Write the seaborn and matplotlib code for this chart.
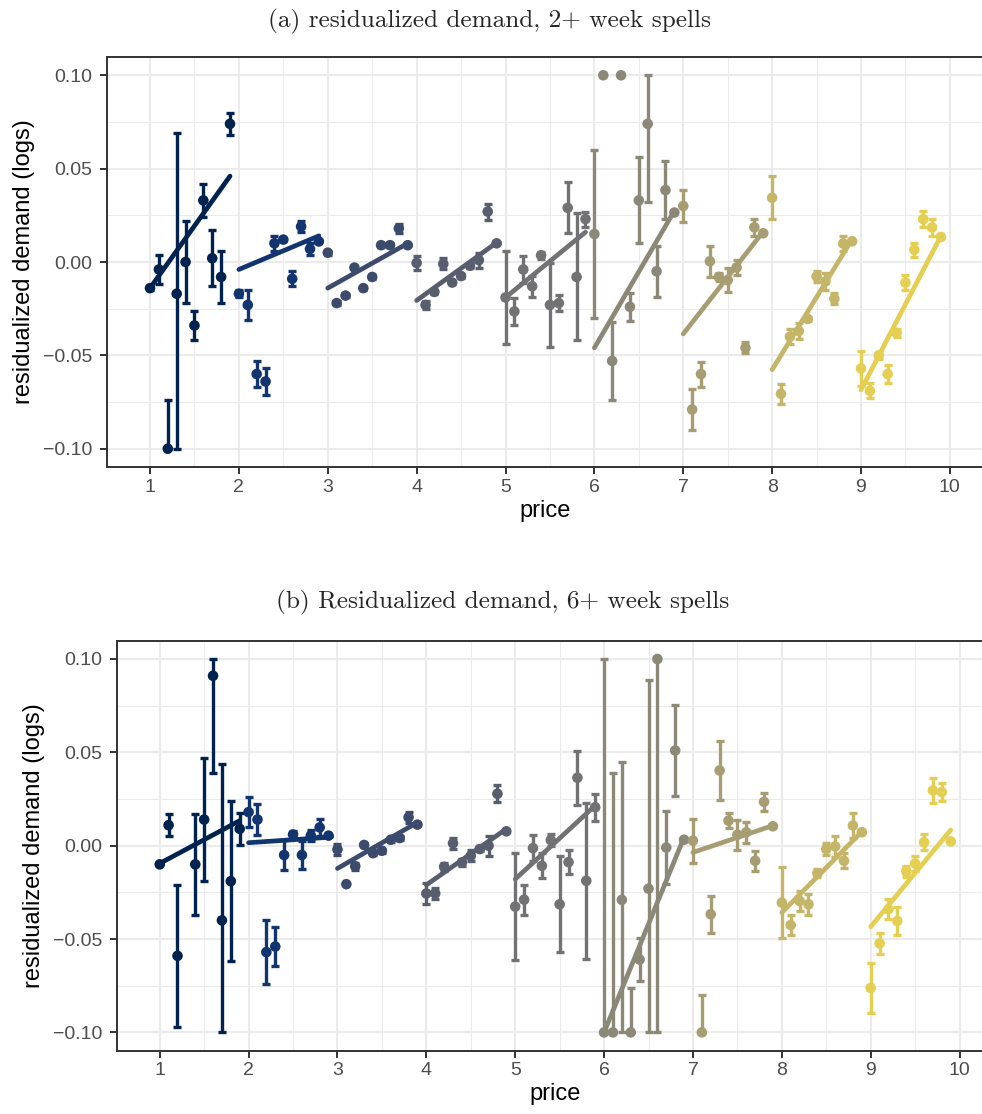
import numpy as np
import pandas as pd
import matplotlib
matplotlib.use("Agg")
import matplotlib.pyplot as plt
from matplotlib.ticker import FixedLocator, MultipleLocator
import seaborn as sns

# ---------------------------------------------------------------- data
price = [
    1.0, 1.1, 1.2, 1.3, 1.4, 1.5, 1.6, 1.7, 1.8, 1.9,
    2.0, 2.1, 2.2, 2.3, 2.4, 2.5, 2.6, 2.7, 2.8, 2.9,
    3.0, 3.1, 3.2, 3.3, 3.4, 3.5, 3.6, 3.7, 3.8, 3.9,
    4.0, 4.1, 4.2, 4.3, 4.4, 4.5, 4.6, 4.7, 4.8, 4.9,
    5.0, 5.1, 5.2, 5.3, 5.4, 5.5, 5.6, 5.7, 5.8, 5.9,
    6.0, 6.1, 6.2, 6.3, 6.4, 6.5, 6.6, 6.7, 6.8, 6.9,
    7.0, 7.1, 7.2, 7.3, 7.4, 7.5, 7.6, 7.7, 7.8, 7.9,
    8.0, 8.1, 8.2, 8.3, 8.4, 8.5, 8.6, 8.7, 8.8, 8.9,
    9.0, 9.1, 9.2, 9.3, 9.4, 9.5, 9.6, 9.7, 9.8, 9.9,
]

# residualized demand and standard errors, 2+ week spells
demand_2wk = [
    -0.014, -0.004, -0.100, -0.017, 0.000, -0.034, 0.033, 0.002, -0.008, 0.074,
    -0.017, -0.023, -0.060, -0.064, 0.010, 0.012, -0.009, 0.019, 0.007, 0.011,
    0.005, -0.022, -0.018, -0.003, -0.014, -0.008, 0.009, 0.009, 0.018, 0.009,
    -0.0005, -0.023, -0.016, -0.001, -0.011, -0.0075, -0.002, 0.001, 0.027, 0.010,
    -0.019, -0.0265, -0.004, -0.013, 0.0036, -0.023, -0.022, 0.029, -0.008, 0.023,
    0.015, 0.100, -0.053, 0.100, -0.024, 0.033, 0.074, -0.005, 0.0385, 0.0265,
    0.030, -0.079, -0.060, 0.0004, -0.008, -0.0097, -0.003, -0.046, 0.0186, 0.0154,
    0.0344, -0.0706, -0.040, -0.037, -0.0305, -0.0077, -0.0104, -0.0197, 0.0099, 0.0111,
    -0.057, -0.069, -0.050, -0.060, -0.038, -0.011, 0.0065, 0.023, 0.0185, 0.0134,
]
se_2wk = [
    0.001, 0.008, 0.026, 0.086, 0.022, 0.008, 0.009, 0.015, 0.014, 0.006,
    0.002, 0.008, 0.007, 0.007, 0.004, 0.001, 0.004, 0.003, 0.003, 0.0,
    0.001, 0.001, 0.001, 0.001, 0.001, 0.001, 0.001, 0.001, 0.0025, 0.0,
    0.0036, 0.002, 0.001, 0.003, 0.001, 0.001, 0.001, 0.004, 0.0043, 0.0,
    0.025, 0.007, 0.007, 0.0057, 0.002, 0.0224, 0.0043, 0.0136, 0.034, 0.004,
    0.045, 0.0, 0.021, 0.0, 0.0076, 0.023, 0.042, 0.0135, 0.0157, 0.0,
    0.0088, 0.0108, 0.0067, 0.0083, 0.002, 0.0066, 0.0042, 0.003, 0.0045, 0.0,
    0.0116, 0.0052, 0.004, 0.0045, 0.001, 0.003, 0.0045, 0.003, 0.004, 0.0,
    0.0092, 0.004, 0.002, 0.005, 0.002, 0.0042, 0.0038, 0.0044, 0.0045, 0.0,
]
# fitted demand at the first and last price of each whole-dollar segment
fit_start_2wk = [-0.014, -0.004, -0.014, -0.0206, -0.019, -0.046, -0.0385, -0.0577, -0.0685]
fit_end_2wk = [0.046, 0.014, 0.010, 0.0104, 0.016, 0.0274, 0.0163, 0.0122, 0.014]

# residualized demand and standard errors, 6+ week spells
demand_6wk = [
    -0.010, 0.011, -0.059, np.nan, -0.010, 0.014, 0.091, -0.040, -0.019, 0.009,
    0.018, 0.014, -0.057, -0.054, -0.005, 0.006, -0.005, 0.0054, 0.0098, 0.0054,
    -0.002, -0.0206, -0.011, 0.0004, -0.004, -0.0027, 0.0032, 0.0041, 0.0152, 0.0113,
    -0.0256, -0.0256, -0.0113, 0.0013, -0.009, -0.0054, -0.0018, 0.000, 0.0278, 0.0077,
    -0.0326, -0.0289, -0.0013, -0.0108, 0.003, -0.0314, -0.0088, 0.0364, -0.0188, 0.0206,
    -0.100, -0.100, -0.029, -0.100, -0.061, -0.023, 0.100, -0.001, 0.051, 0.0032,
    0.0027, -0.100, -0.0367, 0.0403, 0.0134, 0.0059, 0.0072, -0.0081, 0.0235, 0.0104,
    -0.0305, -0.0425, -0.0296, -0.0314, -0.0147, -0.0018, -0.0004, -0.0081, 0.0108, 0.0072,
    -0.0762, -0.0523, -0.034, -0.0403, -0.0138, -0.0095, 0.0018, 0.0296, 0.0287, 0.0023,
]
se_6wk = [
    0.0, 0.0058, 0.038, np.nan, 0.027, 0.033, 0.052, 0.084, 0.043, 0.0085,
    0.008, 0.0083, 0.017, 0.0106, 0.008, 0.002, 0.0076, 0.003, 0.0045, 0.0,
    0.003, 0.0, 0.002, 0.001, 0.001, 0.001, 0.001, 0.001, 0.003, 0.0,
    0.0054, 0.003, 0.002, 0.003, 0.002, 0.003, 0.001, 0.0054, 0.0045, 0.0,
    0.0285, 0.008, 0.007, 0.0067, 0.003, 0.0258, 0.0065, 0.0144, 0.0417, 0.0072,
    0.25, 0.139, 0.0737, 0.024, 0.0113, 0.112, 0.25, 0.0195, 0.0244, 0.0,
    0.0118, 0.0203, 0.0098, 0.0157, 0.004, 0.008, 0.0055, 0.0052, 0.0047, 0.0,
    0.0192, 0.0055, 0.0054, 0.0056, 0.002, 0.003, 0.0058, 0.004, 0.0065, 0.0,
    0.0133, 0.0055, 0.0052, 0.0074, 0.003, 0.004, 0.0042, 0.0067, 0.0048, 0.0,
]
fit_start_6wk = [-0.0095, 0.0016, -0.0122, -0.021, -0.0179, -0.100, -0.0036, -0.0358, -0.0434]
fit_end_6wk = [0.0134, 0.0045, 0.0125, 0.009, 0.0215, 0.0045, 0.0108, 0.0075, 0.0084]

titles = [
    "(a) residualized demand, 2+ week spells",
    "(b) Residualized demand, 6+ week spells",
]
x_ticks = [1, 2, 3, 4, 5, 6, 7, 8, 9, 10]
y_ticks = [-0.10, -0.05, 0.00, 0.05, 0.10]
y_tick_labels = ["\u22120.10", "\u22120.05", "0.00", "0.05", "0.10"]
y_limits = (-0.10, 0.10)

# ---------------------------------------------------------------- style
sns.set_style("white")
plt.rcParams["font.family"] = ["Liberation Sans", "DejaVu Sans"]
plt.rcParams["axes.unicode_minus"] = True

palette = [matplotlib.colormaps["cividis"](v) for v in np.linspace(0.0, 0.9, 9)]

GRID = "#EBEBEB"
DARK = "#333333"
TICK_TXT = "#4D4D4D"


def build_frames(demand, se, fit_start, fit_end):
    df = pd.DataFrame({"price": price, "demand": demand, "se": se})
    df["group"] = np.floor(df["price"] + 1e-9).astype(int)
    lo, hi = y_limits
    df["shown"] = df["demand"].clip(lo, hi)
    df["low"] = (df["demand"] - df["se"]).clip(lo, hi)
    df["high"] = (df["demand"] + df["se"]).clip(lo, hi)
    groups = sorted(df["group"].unique())
    rows = []
    for g, a, b in zip(groups, fit_start, fit_end):
        seg = df.loc[df["group"] == g, "price"]
        rows.append({"group": g, "price": seg.min(), "fit": np.clip(a, lo, hi)})
        rows.append({"group": g, "price": seg.max(), "fit": np.clip(b, lo, hi)})
    return df, pd.DataFrame(rows)


def draw_panel(ax, demand, se, fit_start, fit_end):
    df, fit = build_frames(demand, se, fit_start, fit_end)
    groups = sorted(df["group"].unique())
    colors = dict(zip(groups, palette))
    for g in groups:
        sub = df[(df["group"] == g) & df["shown"].notna()]
        ax.errorbar(
            sub["price"], sub["shown"],
            yerr=[sub["shown"] - sub["low"], sub["high"] - sub["shown"]],
            fmt="none", ecolor=colors[g], elinewidth=2.4,
            capsize=3.0, capthick=2.4, zorder=2,
        )
    sns.scatterplot(
        data=df.dropna(subset=["shown"]), x="price", y="shown", hue="group",
        palette=colors, s=58, linewidth=0, legend=False, ax=ax, zorder=3,
    )
    sns.lineplot(
        data=fit, x="price", y="fit", hue="group", palette=colors,
        linewidth=3.4, legend=False, ax=ax, estimator=None, zorder=4,
    )

    ax.set_xlim(0.516, 10.384)
    ax.set_ylim(-0.1098, 0.1098)
    ax.xaxis.set_major_locator(FixedLocator(x_ticks))
    ax.xaxis.set_minor_locator(MultipleLocator(0.5))
    ax.yaxis.set_major_locator(FixedLocator(y_ticks))
    ax.yaxis.set_minor_locator(MultipleLocator(0.025))
    ax.set_xticklabels([str(t) for t in x_ticks])
    ax.set_yticklabels(y_tick_labels)
    ax.grid(True, which="major", color=GRID, linewidth=1.5, zorder=0)
    ax.grid(True, which="minor", color=GRID, linewidth=0.75, zorder=0)
    ax.set_axisbelow(True)
    ax.tick_params(axis="both", which="major", length=4.8, width=1.4,
                   color=DARK, labelcolor=TICK_TXT, labelsize=14)
    ax.tick_params(axis="x", which="major", pad=3.5, bottom=True)
    ax.tick_params(axis="y", which="major", pad=5.5, left=True)
    ax.tick_params(axis="both", which="minor", length=0)
    for side in ["left", "top", "bottom", "right"]:
        ax.spines[side].set_color(DARK)
        ax.spines[side].set_linewidth(1.4)
    ax.set_xlabel("price", fontsize=17, color="black", labelpad=3)
    ax.set_ylabel("residualized demand (logs)", fontsize=17, color="black", labelpad=6)


W, H = 982, 1114
fig = plt.figure(figsize=(W / 100, H / 100), dpi=100)
ax_a = fig.add_axes([107 / W, 1 - 467 / H, 877 / W, 410 / H])
ax_b = fig.add_axes([116.7 / W, 1 - 1050.7 / H, 877 / W, 410 / H])

draw_panel(ax_a, demand_2wk, se_2wk, fit_start_2wk, fit_end_2wk)
draw_panel(ax_b, demand_6wk, se_6wk, fit_start_6wk, fit_end_6wk)

title_font = ["cmr10", "DejaVu Serif"]
fig.text(490 / W, 1 - 21 / H, titles[0], ha="center", va="center",
         fontsize=18.2, family=title_font)
fig.text(503 / W, 1 - 602.5 / H, titles[1], ha="center", va="center",
         fontsize=18.2, family=title_font)

fig.savefig("out.png", dpi=100, facecolor="white")
